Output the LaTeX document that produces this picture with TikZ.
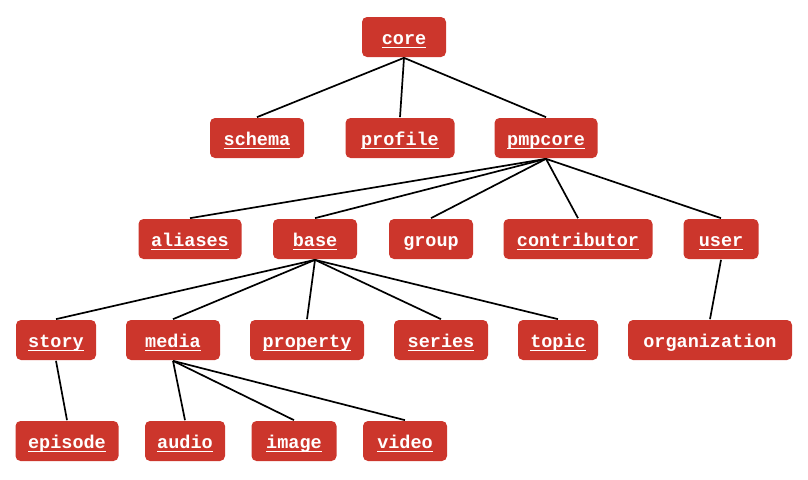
\documentclass[tikz,border=0pt]{standalone}
\usepackage{fontspec}
\newfontfamily\codefont{Liberation Mono}
\definecolor{boxred}{HTML}{CC362C}
\newcommand\lnk[1]{\setbox0\hbox{#1}\rlap{\rule[-4.4pt]{\wd0}{1.3pt}}\box0}
\begin{document}
\begin{tikzpicture}[x=1pt, y=-1pt, line width=1.7pt, main node/.style={rectangle,rounded corners=5pt,fill=boxred,text=white,minimum height=40pt,inner sep=0pt,text height=16pt,text depth=2pt,font=\codefont\bfseries\fontsize{18.5}{20}\selectfont}]
\useasboundingbox (0,0) rectangle (808,479);
\begin{scope}[every node/.style={main node}]
\node (core) at (404,37) [minimum width=84pt] {\lnk{core}};
\node (schema) at (257,138) [minimum width=94pt] {\lnk{schema}};
\node (profile) at (400,138) [minimum width=109pt] {\lnk{profile}};
\node (pmpcore) at (546,138) [minimum width=103pt] {\lnk{pmpcore}};
\node (aliases) at (190,239) [minimum width=103pt] {\lnk{aliases}};
\node (base) at (315,239) [minimum width=84pt] {\lnk{base}};
\node (group) at (431,239) [minimum width=84pt] {group};
\node (contributor) at (578,239) [minimum width=149pt] {\lnk{contributor}};
\node (user) at (721,239) [minimum width=75pt] {\lnk{user}};
\node (story) at (56,340) [minimum width=80pt] {\lnk{story}};
\node (media) at (173,340) [minimum width=94pt] {\lnk{media}};
\node (property) at (307,340) [minimum width=114pt] {\lnk{property}};
\node (series) at (441,340) [minimum width=94pt] {\lnk{series}};
\node (topic) at (558,340) [minimum width=80pt] {\lnk{topic}};
\node (organization) at (710,340) [minimum width=164pt] {organization};
\node (episode) at (67,441) [minimum width=103pt] {\lnk{episode}};
\node (audio) at (185,441) [minimum width=80pt] {\lnk{audio}};
\node (image) at (294,441) [minimum width=85pt] {\lnk{image}};
\node (video) at (405,441) [minimum width=84pt] {\lnk{video}};
\end{scope}
\path
	(core.south) edge (schema.north)
	(core.south) edge (profile.north)
	(core.south) edge (pmpcore.north)
	(pmpcore.south) edge (aliases.north)
	(pmpcore.south) edge (base.north)
	(pmpcore.south) edge (group.north)
	(pmpcore.south) edge (contributor.north)
	(pmpcore.south) edge (user.north)
	(base.south) edge (story.north)
	(base.south) edge (media.north)
	(base.south) edge (property.north)
	(base.south) edge (series.north)
	(base.south) edge (topic.north)
	(user.south) edge (organization.north)
	(story.south) edge (episode.north)
	(media.south) edge (audio.north)
	(media.south) edge (image.north)
	(media.south) edge (video.north)
	;
\end{tikzpicture}
\end{document}
